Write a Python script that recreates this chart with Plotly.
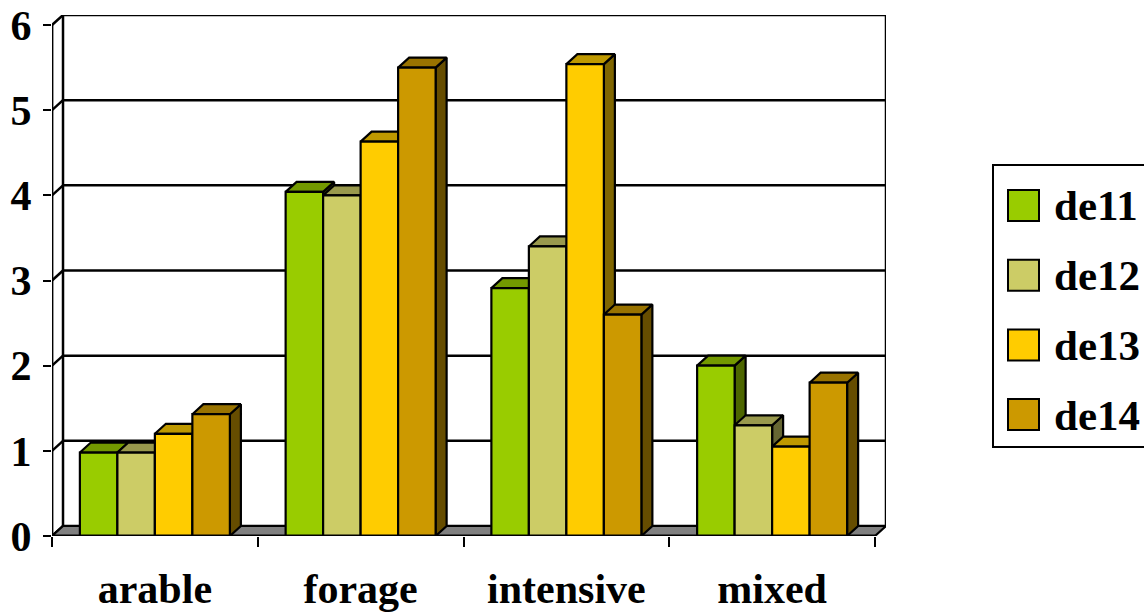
import plotly.graph_objects as go

# ---- data ----
categories = ["arable", "forage", "intensive", "mixed"]
series_names = ["de11", "de12", "de13", "de14"]
de11 = [0.98, 4.04, 2.91, 2.00]
de12 = [0.98, 4.00, 3.40, 1.30]
de13 = [1.20, 4.63, 5.54, 1.05]
de14 = [1.43, 5.50, 2.60, 1.80]
y_ticks = [0, 1, 2, 3, 4, 5, 6]

series_values = [de11, de12, de13, de14]

# ---- styling ----
front_colors = ["#99CC00", "#CCCC66", "#FFCC00", "#CC9900"]
top_colors = ["#739900", "#99994D", "#BF9900", "#997300"]
side_colors = ["#4D6600", "#666633", "#806600", "#664D00"]
FONT = "Liberation Serif"
EDGE = dict(color="black", width=2.2)

# pseudo-3D geometry (data units)
GROUP = 0.729            # fraction of a category occupied by a cluster
BAR_W = GROUP / len(series_names)
DX = 0.0535              # depth offset along x (category units)
DY = 0.1175              # depth offset along y (value units)
Y_MAX = max(y_ticks)
X_LO, X_HI = -0.5, len(categories) - 0.5

# canvas placement (pixels)
W, H = 1144, 614
PLOT_L, PLOT_R, PLOT_T, PLOT_B = 52, 886, 15, 536


def poly(xs, ys, fill, line=EDGE):
    return go.Scatter(
        x=list(xs) + [xs[0]], y=list(ys) + [ys[0]],
        mode="lines", fill="toself", fillcolor=fill, line=line,
        hoverinfo="skip", showlegend=False,
    )


def segs(pairs, width=2.5):
    xs, ys = [], []
    for (x0, y0), (x1, y1) in pairs:
        xs += [x0, x1, None]
        ys += [y0, y1, None]
    return go.Scatter(x=xs, y=ys, mode="lines",
                      line=dict(color="black", width=width),
                      hoverinfo="skip", showlegend=False)


fig = go.Figure()

# back wall gridlines and wall edges
wall = []
for v in y_ticks:
    wall.append(((X_LO + DX, v + DY), (X_HI + DX, v + DY)))   # back gridline
    wall.append(((X_LO, v), (X_LO + DX, v + DY)))             # left-wall diagonal
wall.append(((X_LO + DX, DY), (X_LO + DX, Y_MAX + DY)))       # back-left edge
wall.append(((X_HI + DX, DY), (X_HI + DX, Y_MAX + DY)))       # back-right edge
fig.add_trace(segs(wall))

# floor
fig.add_trace(poly([X_LO, X_HI, X_HI + DX, X_LO + DX], [0, 0, DY, DY], "#808080"))

# columns: side, top, front for each bar, painted left to right
for i, _ in enumerate(categories):
    for j, vals in enumerate(series_values):
        v = vals[i]
        x0 = i - GROUP / 2 + j * BAR_W
        x1 = x0 + BAR_W
        fig.add_trace(poly([x1, x1 + DX, x1 + DX, x1], [0, DY, v + DY, v], side_colors[j]))
        fig.add_trace(poly([x0, x1, x1 + DX, x0 + DX], [v, v, v + DY, v + DY], top_colors[j]))
        fig.add_trace(poly([x0, x1, x1, x0], [0, 0, v, v], front_colors[j]))

# front axis lines
fig.add_trace(segs([((X_LO, 0), (X_LO, Y_MAX)), ((X_LO, 0), (X_HI, 0))], width=2.8))

# legend (drawn in pixel positions converted to paper coordinates)
def px(xp):
    return (xp - PLOT_L) / (PLOT_R - PLOT_L)


def py(yp):
    return (PLOT_B - yp) / (PLOT_B - PLOT_T)


shapes = [dict(type="rect", xref="paper", yref="paper",
               x0=px(993), x1=px(1160), y0=py(447), y1=py(165),
               line=dict(color="black", width=2), fillcolor="white", layer="above")]
annotations = []
for k, name in enumerate(series_names):
    top = 190 + k * 69.7
    shapes.append(dict(type="rect", xref="paper", yref="paper",
                       x0=px(1008), x1=px(1039), y0=py(top + 31), y1=py(top),
                       line=dict(color="black", width=2), fillcolor=front_colors[k],
                       layer="above"))
    annotations.append(dict(xref="paper", yref="paper", x=px(1052), y=py(top + 16),
                            xanchor="left", yanchor="middle", text=name, showarrow=False,
                            font=dict(family=FONT, size=43, color="black", weight="bold")))

fig.update_layout(
    width=W, height=H,
    margin=dict(l=PLOT_L, r=W - PLOT_R, t=PLOT_T, b=H - PLOT_B, pad=0),
    paper_bgcolor="white", plot_bgcolor="white",
    showlegend=False,
    shapes=shapes, annotations=annotations,
    xaxis=dict(
        range=[X_LO, X_HI + DX], showgrid=False, zeroline=False, showline=False,
        tickvals=list(range(len(categories))), ticktext=categories, ticks="",
        ticklabelstandoff=24,
        tickfont=dict(family=FONT, size=42, color="black", weight="bold"),
        minor=dict(tickvals=[k - 0.5 for k in range(len(categories) + 1)],
                   ticks="outside", ticklen=10, tickwidth=2, tickcolor="black"),
        automargin=False, fixedrange=True,
    ),
    yaxis=dict(
        range=[0, Y_MAX + DY], showgrid=False, zeroline=False, showline=False,
        tickvals=y_ticks, ticks="outside", ticklen=8, tickwidth=2, tickcolor="black",
        ticklabelstandoff=3,
        tickfont=dict(family=FONT, size=42, color="black", weight="bold"),
        automargin=False, fixedrange=True,
    ),
)

fig.write_html("out.html", config={"displayModeBar": False})
